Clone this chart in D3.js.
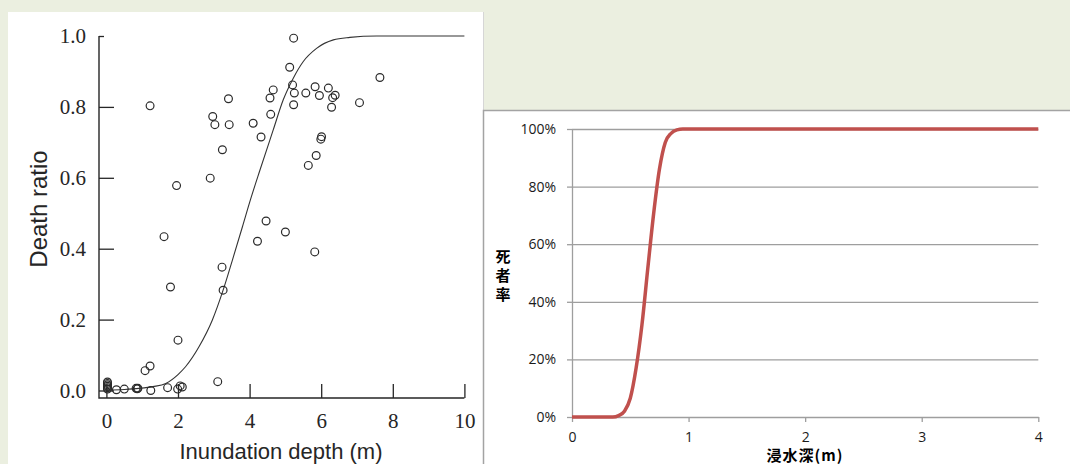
<!DOCTYPE html>
<html>
<head>
<meta charset="utf-8">
<script src="https://cdn.jsdelivr.net/npm/d3@7"></script>
<style>
  html, body { margin: 0; padding: 0; background: #ebefe0; }
  svg { display: block; }
</style>
</head>
<body>
<svg id="fig" width="1070" height="464"></svg>
<script>
// ---- Left panel: observed death ratio vs inundation depth, with fitted curve ----
const depthTicks = [0, 2, 4, 6, 8, 10];
const ratioTicks = [0, 0.2, 0.4, 0.6, 0.8, 1.0];

const obsDepth = [
  0.03, 0.03, 0.03, 0.03, 0.03, 0.03,
  0.28, 0.50, 0.83, 0.86, 0.88, 1.24, 1.71, 1.99, 2.06, 2.12,
  1.08, 1.22, 2.00, 1.79, 1.61, 3.11, 3.26, 3.23,
  1.96, 2.90, 3.24, 2.97, 3.03, 3.43, 3.41, 1.22,
  4.10, 4.32, 4.22, 4.46, 5.00, 5.82,
  4.59, 4.57, 4.66, 5.23, 5.12, 5.20, 5.25, 5.23,
  5.57, 5.83, 5.95, 6.20, 6.32, 6.39, 6.29, 7.07, 7.64,
  6.01, 5.99, 5.86, 5.64
];
const obsRatio = [
  0.004, 0.008, 0.012, 0.016, 0.020, 0.024,
  0.002, 0.004, 0.006, 0.005, 0.006, 0.000, 0.008, 0.004, 0.013, 0.010,
  0.056, 0.069, 0.142, 0.292, 0.434, 0.025, 0.283, 0.348,
  0.578, 0.599, 0.679, 0.773, 0.750, 0.750, 0.823, 0.803,
  0.754, 0.715, 0.421, 0.478, 0.447, 0.391,
  0.779, 0.825, 0.848, 0.994, 0.912, 0.862, 0.839, 0.806,
  0.839, 0.857, 0.832, 0.853, 0.826, 0.833, 0.799, 0.812, 0.883,
  0.716, 0.709, 0.663, 0.635
];

const fitDepth = [0, 0.5, 0.91, 1.3, 1.66, 2.0, 2.21, 2.59, 2.96, 3.26, 3.52, 3.80,
                  4.02, 4.29, 4.66, 4.94, 5.22, 5.50, 5.87, 6.34, 6.80, 7.55, 10];
const fitRatio = [0.001, 0.003, 0.006, 0.011, 0.020, 0.045, 0.067, 0.124, 0.199, 0.283, 0.368, 0.462,
                  0.537, 0.622, 0.735, 0.820, 0.881, 0.928, 0.965, 0.989, 0.996, 1.0, 1.0];

// ---- Right panel: 死者率 vs 浸水深 ----
const rateDepth = [0, 0.1, 0.2, 0.3, 0.35, 0.4, 0.45, 0.5, 0.55, 0.6, 0.65, 0.7,
                   0.75, 0.8, 0.85, 0.9, 0.95, 1.0, 2, 3, 4];
const rateValue = [0, 0, 0, 0, 0, 0.5, 2, 6.5, 17, 32, 51.5, 70.5,
                   86, 95.3, 98.5, 99.7, 100, 100, 100, 100, 100];
const rateXTicks = [0, 1, 2, 3, 4];
const rateYTicks = [0, 20, 40, 60, 80, 100];

const svg = d3.select("#fig");

// panel backgrounds
svg.append("rect").attr("x", 8).attr("y", 12).attr("width", 475).attr("height", 452).attr("fill", "#fff");
svg.append("line").attr("x1", 483.5).attr("x2", 483.5).attr("y1", 12).attr("y2", 464)
  .attr("stroke", "#d6d6d6").attr("stroke-width", 1);
svg.append("rect").attr("x", 483).attr("y", 110).attr("width", 587).attr("height", 354).attr("fill", "#fff");
svg.append("path").attr("d", "M483.5,464V110.5H1070")
  .attr("fill", "none").attr("stroke", "#a3a3a3").attr("stroke-width", 1.5);

// ================= left chart =================
const xL = d3.scaleLinear().domain([0, 10]).range([106.4, 464.4]);
const yL = d3.scaleLinear().domain([0, 1]).range([390.5, 36]);
const ink = "#262626";
const serif = "'Liberation Serif', 'Times New Roman', serif";
const sans = "'Liberation Sans', Arial, sans-serif";

const gLeft = svg.append("g");

// y axis (ticks point inward)
const yAxisL = gLeft.append("g").attr("transform", "translate(99,0)")
  .call(d3.axisLeft(yL).tickValues(ratioTicks).tickFormat(d3.format(".1f"))
    .tickSizeInner(-15).tickSizeOuter(0).tickPadding(13));
yAxisL.select(".domain").remove();
yAxisL.selectAll(".tick line").attr("stroke", ink).attr("stroke-width", 1.3)
  .attr("x2", d => d === 1 ? 5 : 15);
yAxisL.selectAll(".tick text").attr("font-family", serif).attr("font-size", 21).attr("fill", ink);

// x axis (ticks point inward)
const xAxisL = gLeft.append("g").attr("transform", "translate(0,398)")
  .call(d3.axisBottom(xL).tickValues(depthTicks).tickFormat(d3.format("d"))
    .tickSizeInner(-14).tickSizeOuter(0).tickPadding(15));
xAxisL.select(".domain").remove();
xAxisL.selectAll(".tick line").attr("stroke", ink).attr("stroke-width", 1.3);
xAxisL.selectAll(".tick text").attr("font-family", serif).attr("font-size", 21).attr("fill", ink);

// axis lines forming the corner
gLeft.append("path").attr("d", `M99,${yL(1)}V398H${xL(10)}`)
  .attr("fill", "none").attr("stroke", ink).attr("stroke-width", 1.4);

// fitted curve
const fitLine = d3.line().x((d, i) => xL(fitDepth[i])).y((d, i) => yL(fitRatio[i]))
  .curve(d3.curveMonotoneX);
gLeft.append("path").datum(fitDepth).attr("d", fitLine)
  .attr("fill", "none").attr("stroke", "#333").attr("stroke-width", 1.1);

// observations
gLeft.append("g").selectAll("circle").data(obsDepth).join("circle")
  .attr("cx", (d, i) => xL(obsDepth[i]))
  .attr("cy", (d, i) => yL(obsRatio[i]))
  .attr("r", 3.9)
  .attr("fill", "none").attr("stroke", "#2a2a2a").attr("stroke-width", 1.2);

// axis titles
gLeft.append("text").attr("x", 281).attr("y", 459).attr("text-anchor", "middle")
  .attr("font-family", sans).attr("font-size", 22).attr("fill", ink)
  .text("Inundation depth (m)");
gLeft.append("text").attr("transform", "translate(47,209) rotate(-90)").attr("text-anchor", "middle")
  .attr("font-family", sans).attr("font-size", 24).attr("fill", ink)
  .text("Death ratio");

// ================= right chart =================
const xR = d3.scaleLinear().domain([0, 4]).range([572, 1038.3]);
const yR = d3.scaleLinear().domain([0, 100]).range([417, 129]);
const gridGrey = "#9e9e9e";
const uiFont = "'Open Sans', 'Noto Sans', sans-serif";
const cjk = "'Noto Sans CJK JP', 'Noto Sans CJK SC', sans-serif";

const gRight = svg.append("g");

// horizontal gridlines
const grid = gRight.append("g").attr("transform", "translate(572,0)")
  .call(d3.axisLeft(yR).tickValues(rateYTicks.filter(v => v > 0)).tickSize(-(1038.3 - 572)).tickFormat(""));
grid.select(".domain").remove();
grid.selectAll(".tick line").attr("stroke", gridGrey).attr("stroke-width", 1.3);

// y axis with percent labels
const yAxisR = gRight.append("g").attr("transform", "translate(572,0)")
  .call(d3.axisLeft(yR).tickValues(rateYTicks).tickFormat(d => d + "%")
    .tickSizeInner(5).tickSizeOuter(0).tickPadding(11));
yAxisR.select(".domain").attr("stroke", gridGrey).attr("stroke-width", 1.3);
yAxisR.selectAll(".tick line").attr("stroke", gridGrey).attr("stroke-width", 1.3);
yAxisR.selectAll(".tick text").attr("font-family", uiFont).attr("font-size", 14).attr("fill", "#1a1a1a");

// x axis
const xAxisR = gRight.append("g").attr("transform", "translate(0,417)")
  .call(d3.axisBottom(xR).tickValues(rateXTicks).tickFormat(d3.format("d"))
    .tickSizeInner(5).tickSizeOuter(0).tickPadding(10));
xAxisR.select(".domain").attr("stroke", gridGrey).attr("stroke-width", 1.3);
xAxisR.selectAll(".tick line").attr("stroke", gridGrey).attr("stroke-width", 1.3);
xAxisR.selectAll(".tick text").attr("font-family", uiFont).attr("font-size", 14).attr("fill", "#1a1a1a");

// death-rate curve
const rateLine = d3.line().x((d, i) => xR(rateDepth[i])).y((d, i) => yR(rateValue[i]))
  .curve(d3.curveMonotoneX);
gRight.append("path").datum(rateDepth).attr("d", rateLine)
  .attr("fill", "none").attr("stroke", "#c0504d").attr("stroke-width", 3.5)
  .attr("stroke-linejoin", "round");

// axis titles
const yTitle = gRight.append("text").attr("font-family", cjk).attr("font-weight", 700)
  .attr("font-size", 15).attr("fill", "#000").attr("text-anchor", "middle");
Array.from("死者率").forEach((ch, i) => {
  yTitle.append("tspan").attr("x", 503).attr("y", 262 + i * 19).text(ch);
});
gRight.append("text").attr("x", 805).attr("y", 461).attr("text-anchor", "middle")
  .attr("font-family", cjk).attr("font-weight", 700).attr("font-size", 15)
  .attr("letter-spacing", 1).attr("fill", "#000")
  .text("浸水深(m)");
</script>
</body>
</html>
